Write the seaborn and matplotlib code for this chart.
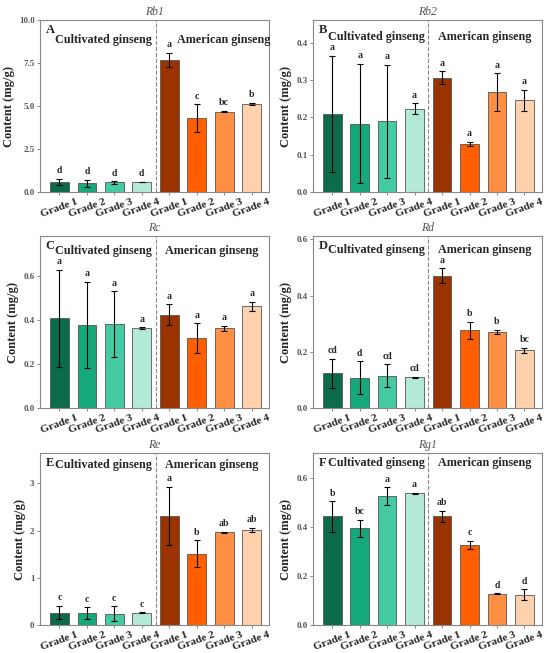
import numpy as np
import pandas as pd
import matplotlib
matplotlib.use("Agg")
import matplotlib.pyplot as plt
import seaborn as sns

# data (mg/g), 4 cultivated + 4 American grades
bars = ["C1", "C2", "C3", "C4", "A1", "A2", "A3", "A4"]
grade_labels = ["Grade 1", "Grade 2", "Grade 3", "Grade 4"] * 2
palette = ["#0b6b4a", "#14a87a", "#45cba3", "#b3ead5",
           "#9a3300", "#ff5f00", "#ff8f45", "#ffd2ad"]

panels = ["A", "B", "C", "D", "E", "F"]
titles = ["Rb1", "Rb2", "Rc", "Rd", "Re", "Rg1"]

rb1_mean = [0.58, 0.50, 0.56, 0.58, 7.69, 4.29, 4.68, 5.15]
rb1_err = [0.19, 0.20, 0.08, 0.02, 0.41, 0.82, 0.04, 0.06]
rb1_sig = ["d", "d", "d", "d", "a", "c", "bc", "b"]

rb2_mean = [0.209, 0.183, 0.189, 0.223, 0.306, 0.129, 0.268, 0.246]
rb2_err = [0.156, 0.160, 0.152, 0.015, 0.018, 0.005, 0.050, 0.028]
rb2_sig = ["a"] * 8

rc_mean = [0.408, 0.379, 0.382, 0.364, 0.425, 0.318, 0.363, 0.463]
rc_err = [0.220, 0.195, 0.150, 0.003, 0.048, 0.067, 0.012, 0.021]
rc_sig = ["a"] * 8

rd_mean = [0.123, 0.108, 0.115, 0.109, 0.470, 0.276, 0.270, 0.205]
rd_err = [0.053, 0.058, 0.040, 0.002, 0.026, 0.031, 0.008, 0.010]
rd_sig = ["cd", "d", "cd", "cd", "a", "b", "b", "bc"]

re_mean = [0.26, 0.25, 0.24, 0.26, 2.31, 1.51, 1.96, 2.01]
re_err = [0.145, 0.13, 0.16, 0.01, 0.62, 0.28, 0.02, 0.05]
re_sig = ["c", "c", "c", "c", "a", "b", "ab", "ab"]

rg1_mean = [0.442, 0.394, 0.524, 0.536, 0.443, 0.327, 0.127, 0.123]
rg1_err = [0.063, 0.034, 0.037, 0.002, 0.023, 0.017, 0.002, 0.023]
rg1_sig = ["b", "bc", "a", "a", "ab", "c", "d", "d"]

means = [rb1_mean, rb2_mean, rc_mean, rd_mean, re_mean, rg1_mean]
errs = [rb1_err, rb2_err, rc_err, rd_err, re_err, rg1_err]
sigs = [rb1_sig, rb2_sig, rc_sig, rd_sig, re_sig, rg1_sig]

ylims = [10.0, 0.46, 0.78, 0.61, 3.64, 0.70]
yticks = [[0, 2.5, 5.0, 7.5, 10.0], [0, 0.1, 0.2, 0.3, 0.4],
          [0, 0.2, 0.4, 0.6], [0, 0.2, 0.4, 0.6], [0, 1, 2, 3],
          [0, 0.2, 0.4, 0.6]]
yfmt = ["{:.1f}", "{:.1f}", "{:.1f}", "{:.1f}", "{:.0f}", "{:.1f}"]
# vertical position (axes fraction) of the group captions in each panel
group_y = [0.885, 0.90, 0.915, 0.92, 0.93, 0.945]

sns.set_style("ticks")
plt.rcParams["font.family"] = ["Liberation Serif", "DejaVu Serif"]

fig = plt.figure(figsize=(5.5, 6.53), dpi=100)

# axes boxes in figure fractions
lefts = [0.073, 0.569]
bottoms = [0.706, 0.375, 0.043]
w, h = 0.416, 0.263

for i in range(6):
    row, col = divmod(i, 2)
    ax = fig.add_axes([lefts[col], bottoms[row], w, h])
    df = pd.DataFrame({"bar": bars, "value": means[i]})
    sns.barplot(data=df, x="bar", y="value", hue="bar", order=bars,
                hue_order=bars, palette=palette, saturation=1,
                legend=False, width=0.68, edgecolor="#555555",
                linewidth=0.6, errorbar=None, ax=ax)
    ax.errorbar(np.arange(8), means[i], yerr=errs[i], fmt="none",
                ecolor="black", elinewidth=0.8, capsize=2.5, capthick=0.8)
    for k in range(8):
        ax.annotate(sigs[i][k], (k, means[i][k] + errs[i][k]),
                    xytext=(0, 2.5), textcoords="offset points",
                    ha="center", va="bottom", fontsize=7,
                    fontweight="bold")
    ax.axvline(3.5, color="#888888", linestyle="--", linewidth=0.8)
    ax.set_xlim(-0.7, 7.63)
    ax.set_ylim(0, ylims[i])
    ax.set_yticks(yticks[i])
    ax.set_yticklabels([yfmt[i].format(t) for t in yticks[i]],
                       fontsize=6.5, color="#555555", fontweight="bold")
    ax.set_xticks(range(8))
    ax.set_xticklabels(grade_labels, rotation=20, fontsize=8,
                       fontweight="bold", ha="center")
    ax.tick_params(axis="both", length=2.5, width=0.6, color="#777777",
                   pad=1.5)
    for s in ax.spines.values():
        s.set_color("#888888")
        s.set_linewidth(0.8)
    ax.set_xlabel("")
    ax.set_ylabel("Content (mg/g)", fontsize=9, fontweight="bold",
                  labelpad=3)
    ax.set_title(titles[i], fontsize=8.5, style="italic", color="#555555",
                 pad=4)
    ax.text(0.025, 0.98, panels[i], transform=ax.transAxes, fontsize=9,
            fontweight="bold", va="top", ha="left")
    ax.text(1.62, ylims[i] * group_y[i], "Cultivated ginseng", fontsize=8.7,
            fontweight="bold", ha="center", va="center")
    am_x = 6.0 if i == 0 else 5.55
    ax.text(am_x, ylims[i] * group_y[i], "American ginseng", fontsize=8.7,
            fontweight="bold", ha="center", va="center")

fig.savefig("out.png", dpi=100)
